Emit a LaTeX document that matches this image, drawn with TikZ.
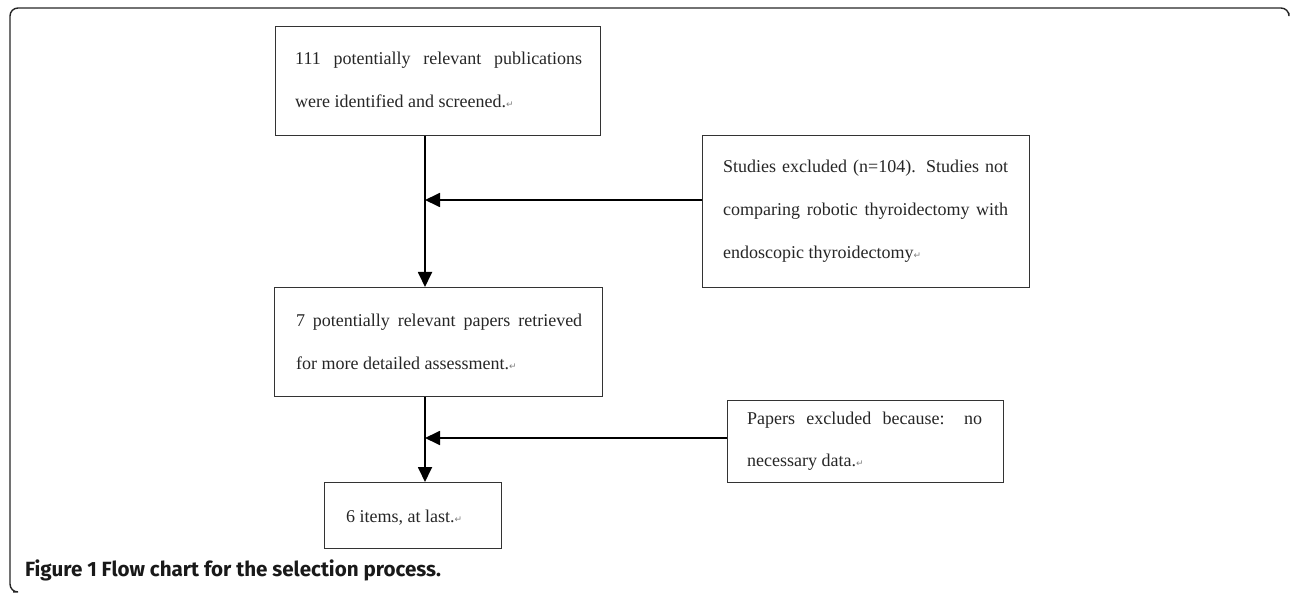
\documentclass[tikz,border=0pt]{standalone}
\usepackage{fontspec}
\setmainfont{Liberation Serif}
\newfontfamily\capfont{Fira Sans}
\newfontfamily\symfont{DejaVu Sans}
\usetikzlibrary{arrows.meta}
\newcommand{\retmark}{{\color{gray}\symfont\fontsize{9}{9}\selectfont ↵}}
\begin{document}
\begin{tikzpicture}[x=1pt,y=-1pt,
  frame/.style={draw=black!85,line width=1.4pt},
  box/.style={draw=black!80,line width=1.4pt,rectangle,inner sep=0pt,anchor=north west},
  txt/.style={anchor=base west,inner sep=0pt,align=justify,text=black!85,
    font=\fontsize{18}{43}\selectfont},
  arr/.style={draw=black,line width=1.8pt,-{Triangle[length=15pt,width=14pt]}},
  ln/.style={draw=black,line width=1.8pt}]
\useasboundingbox (0,0) rectangle (1290,593);
\draw[frame,rounded corners=8pt] (13,592) -- (10,592) -- (10,8) -- (1289,8) -- (1289,13);
% boxes
\node[box,minimum width=325pt,minimum height=109pt] (b1) at (275,26) {};
\node[box,minimum width=327pt,minimum height=152pt] (b2) at (702,135) {};
\node[box,minimum width=328pt,minimum height=109pt] (b3) at (274,287) {};
\node[box,minimum width=276pt,minimum height=82pt] (b4) at (727,400) {};
\node[box,minimum width=177pt,minimum height=66pt] (b5) at (324,482) {};
% texts
\node[txt,text width=287pt] (t1) at (295,65) {111 potentially relevant publications were identified and screened.\retmark};
\node[txt,text width=285pt] (t2) at (723,173) {Studies excluded (n=104). Studies not comparing robotic thyroidectomy with endoscopic thyroidectomy\retmark};
\node[txt,text width=286pt] (t3) at (296,327) {7 potentially relevant papers retrieved for more detailed assessment.\retmark};
\node[txt,text width=235pt] (t4) at (747,424) {Papers excluded because: no necessary data.\retmark};
\node[txt,text width=150pt] (t5) at (346,522) {6 items, at last.\retmark};
% junctions
\coordinate (j1) at (425,200);
\coordinate (j2) at (425,438);
% connectors
\draw[arr] (b1.south -| j1) -- (b3.north -| j1);
\draw[arr] (j1 -| b2.west) -- (j1);
\draw[arr] (b3.south -| j2) -- (b5.north -| j2);
\draw[arr] (j2 -| b4.west) -- (j2);
% caption
\node[anchor=base west,inner sep=0pt,text=black!90,font=\capfont\bfseries\fontsize{20.6}{24}\selectfont] (cap) at (25,576) {Figure 1 Flow chart for the selection process.};
\end{tikzpicture}
\end{document}
